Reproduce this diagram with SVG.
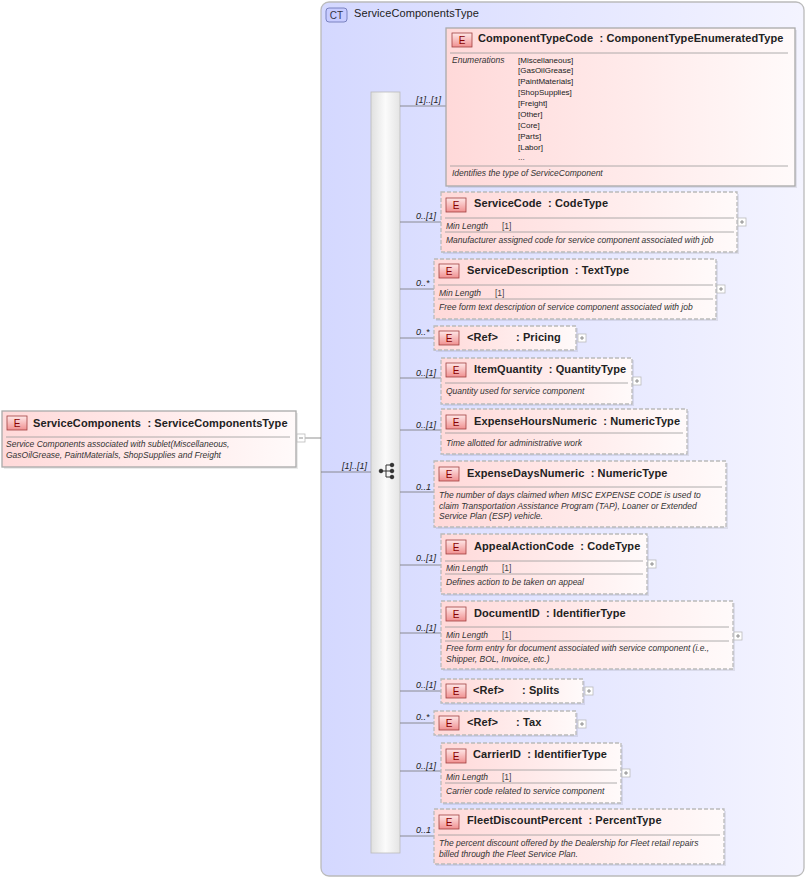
<svg xmlns="http://www.w3.org/2000/svg" width="808" height="880" viewBox="0 0 808 880">
<defs>
<linearGradient id="ct" x1="0" y1="0" x2="1" y2="0"><stop offset="0" stop-color="#d4d8ff"/><stop offset="1" stop-color="#f4f4ff"/></linearGradient>
<linearGradient id="el" x1="0" y1="0" x2="1" y2="0"><stop offset="0" stop-color="#ffd9d9"/><stop offset="1" stop-color="#fffafa"/></linearGradient>
<linearGradient id="bd" x1="0" y1="0" x2="0" y2="1"><stop offset="0" stop-color="#ffe8e8"/><stop offset="1" stop-color="#f09090"/></linearGradient>
<linearGradient id="sq" x1="0" y1="0" x2="1" y2="0"><stop offset="0" stop-color="#e0e0e0"/><stop offset="0.5" stop-color="#fbfbfb"/><stop offset="1" stop-color="#e4e4e4"/></linearGradient>
</defs>
<style>
text{font-family:"Liberation Sans",Arial,sans-serif;fill:#222}
.h{font-size:11px;font-weight:bold;letter-spacing:0.1px}
.d{font-size:8.5px;font-style:italic;fill:#333}
.m{font-size:8.5px;fill:#444}
.en{font-size:8px;fill:#999}
.lbl{font-size:9px;font-style:italic;fill:#333}
.box{fill:url(#el);stroke:#bbb;stroke-width:1.3;stroke-dasharray:4,2}
.sol{fill:url(#el);stroke:#aaa;stroke-width:1.3}
.sh{fill:#000;opacity:0.08}
.b{fill:url(#bd);stroke:#a04040;stroke-width:0.8}
.bt{font-size:10px;fill:#800;text-anchor:middle}
.sep{stroke:#999;stroke-width:0.8}
.pl{fill:#fff;stroke:#bbb;stroke-width:0.8}
.ln{stroke:#777;stroke-width:0.8;fill:none}
</style>
<g id="ct-ServiceComponentsType">
<rect x="321" y="2" width="483" height="874" rx="8" fill="url(#ct)" stroke="#bbb" stroke-width="1.3"/>
<rect x="326" y="8" width="21" height="14" rx="3" fill="#c8ccff" stroke="#6670b0" stroke-width="0.8"/>
<text x="336.5" y="19" style="font-size:10px;fill:#334;text-anchor:middle">CT</text>
<text x="354" y="17" class="h" style="font-weight:normal;font-size:11px">ServiceComponentsType</text>
</g>
<g id="sequence">
<rect x="371" y="92" width="29" height="761" fill="url(#sq)" stroke="#bbb" stroke-width="0.8"/>
<g fill="#333" stroke="#333" stroke-width="1">
<circle cx="381" cy="471" r="1.8"/><circle cx="392" cy="465" r="1.8"/><circle cx="392" cy="471" r="1.8"/><circle cx="392" cy="477" r="1.8"/>
<path d="M381 471H386M386 465V477M386 465H392M386 477H392M386 471H392" fill="none"/>
</g>
</g>
<g id="connectors">
<path class="ln" d="M305 438H321M321 472H371"/>
<path class="ln" d="M400 106H446M400 222H441M400 289H434M400 338H434M400 378H441M400 430H441M400 492H434M400 565H441M400 633H441M400 691H441M400 723H434M400 771H441M400 836H434"/>
<g class="lbl">
<text x="342" y="469">[1]..[1]</text>
<text x="416" y="103">[1]..[1]</text>
<text x="416" y="219">0..[1]</text>
<text x="416" y="286">0..*</text>
<text x="416" y="335">0..*</text>
<text x="416" y="376">0..[1]</text>
<text x="416" y="428">0..[1]</text>
<text x="416" y="490">0..1</text>
<text x="416" y="561">0..[1]</text>
<text x="416" y="631">0..[1]</text>
<text x="416" y="688">0..[1]</text>
<text x="416" y="720">0..*</text>
<text x="416" y="769">0..[1]</text>
<text x="416" y="833">0..1</text>
</g>
</g>
<g id="ServiceComponents">
<rect x="4" y="413" width="294" height="56" class="sh"/>
<rect x="2" y="411" width="294" height="56" fill="url(#el)" stroke="#aaa" stroke-width="1.3"/>
<rect x="7" y="416" width="20" height="14" class="b"/><text x="17" y="427" class="bt">E</text>
<text x="33" y="427" class="h">ServiceComponents&#160; : ServiceComponentsType</text>
<line x1="6" y1="437" x2="290" y2="437" class="sep"/>
<text x="6" y="447" class="d">Service Components associated with sublet(Miscellaneous,</text>
<text x="6" y="458" class="d">GasOilGrease, PaintMaterials, ShopSupplies and Freight</text>
<rect x="297" y="434" width="8" height="8" class="pl"/><line x1="299" y1="438" x2="303" y2="438" class="ln"/>
</g>
<g id="ComponentTypeCode">
<rect x="448" y="30" width="349" height="158" class="sh"/>
<rect x="446" y="28" width="349" height="158" class="sol"/>
<rect x="452" y="33" width="20" height="14" class="b"/><text x="462" y="44" class="bt">E</text>
<text x="478" y="42" class="h">ComponentTypeCode&#160; : ComponentTypeEnumeratedType</text>
<line x1="450" y1="53" x2="788" y2="53" class="sep"/>
<text x="452" y="63" class="d">Enumerations</text>
<g class="en"><text x="518" y="63">[Miscellaneous]</text><text x="518" y="73">[GasOilGrease]</text><text x="518" y="84">[PaintMaterials]</text><text x="518" y="95">[ShopSupplies]</text><text x="518" y="106">[Freight]</text><text x="518" y="117">[Other]</text><text x="518" y="128">[Core]</text><text x="518" y="139">[Parts]</text><text x="518" y="150">[Labor]</text><text x="518" y="160">...</text></g>
<line x1="450" y1="166" x2="788" y2="166" class="sep"/>
<text x="452" y="176" class="d">Identifies the type of ServiceComponent</text>
</g>
<g id="ServiceCode">
<rect x="443" y="194" width="296" height="60" class="sh"/>
<rect x="441" y="192" width="296" height="60" class="box"/>
<rect x="446" y="198" width="20" height="14" class="b"/><text x="456" y="209" class="bt">E</text>
<text x="474" y="207" class="h">ServiceCode&#160; : CodeType</text>
<line x1="445" y1="218" x2="734" y2="218" class="sep"/>
<text x="446" y="229" class="d">Min Length</text><text x="502" y="229" class="m">[1]</text>
<line x1="445" y1="232" x2="734" y2="232" class="sep"/>
<text x="446" y="243" class="d">Manufacturer assigned code for service component associated with job</text>
<rect x="738" y="218" width="8" height="8" class="pl"/><path d="M740 222H744M742 220V224" class="ln"/>
</g>
<g id="ServiceDescription">
<rect x="436" y="261" width="282" height="60" class="sh"/>
<rect x="434" y="259" width="282" height="60" class="box"/>
<rect x="439" y="264" width="20" height="14" class="b"/><text x="449" y="275" class="bt">E</text>
<text x="467" y="274" class="h">ServiceDescription&#160; : TextType</text>
<line x1="438" y1="285" x2="713" y2="285" class="sep"/>
<text x="439" y="296" class="d">Min Length</text><text x="495" y="296" class="m">[1]</text>
<line x1="438" y1="299" x2="713" y2="299" class="sep"/>
<text x="439" y="310" class="d">Free form text description of service component associated with job</text>
<rect x="717" y="285" width="8" height="8" class="pl"/><path d="M719 289H723M721 287V291" class="ln"/>
</g>
<g id="Pricing">
<rect x="436" y="328" width="142" height="24" class="sh"/>
<rect x="434" y="326" width="142" height="24" class="box"/>
<rect x="439" y="331" width="20" height="14" class="b"/><text x="449" y="342" class="bt">E</text>
<text x="467" y="341" class="h">&lt;Ref&gt;</text><text x="516" y="341" class="h">: Pricing</text>
<rect x="578" y="334" width="8" height="8" class="pl"/><path d="M580 338H584M582 336V340" class="ln"/>
</g>
<g id="ItemQuantity">
<rect x="443" y="360" width="191" height="46" class="sh"/>
<rect x="441" y="358" width="191" height="46" class="box"/>
<rect x="446" y="363" width="20" height="14" class="b"/><text x="456" y="374" class="bt">E</text>
<text x="474" y="373" class="h">ItemQuantity&#160; : QuantityType</text>
<line x1="445" y1="383" x2="628" y2="383" class="sep"/>
<text x="446" y="394" class="d">Quantity used for service component</text>
<rect x="633" y="377" width="8" height="8" class="pl"/><path d="M635 381H639M637 379V383" class="ln"/>
</g>
<g id="ExpenseHoursNumeric">
<rect x="443" y="411" width="246" height="45" class="sh"/>
<rect x="441" y="409" width="246" height="45" class="box"/>
<rect x="446" y="415" width="20" height="14" class="b"/><text x="456" y="426" class="bt">E</text>
<text x="474" y="425" class="h">ExpenseHoursNumeric&#160; : NumericType</text>
<line x1="445" y1="433" x2="683" y2="433" class="sep"/>
<text x="446" y="446" class="d">Time allotted for administrative work</text>
</g>
<g id="ExpenseDaysNumeric">
<rect x="436" y="463" width="292" height="66" class="sh"/>
<rect x="434" y="461" width="292" height="66" class="box"/>
<rect x="439" y="467" width="20" height="14" class="b"/><text x="449" y="478" class="bt">E</text>
<text x="467" y="477" class="h">ExpenseDaysNumeric&#160; : NumericType</text>
<line x1="438" y1="487" x2="722" y2="487" class="sep"/>
<text x="439" y="498" class="d">The number of days claimed when MISC EXPENSE CODE is used to</text>
<text x="439" y="509" class="d">claim Transportation Assistance Program (TAP), Loaner or Extended</text>
<text x="439" y="519" class="d">Service Plan (ESP) vehicle.</text>
</g>
<g id="AppealActionCode">
<rect x="443" y="536" width="206" height="60" class="sh"/>
<rect x="441" y="534" width="206" height="60" class="box"/>
<rect x="446" y="540" width="20" height="14" class="b"/><text x="456" y="551" class="bt">E</text>
<text x="474" y="550" class="h">AppealActionCode&#160; : CodeType</text>
<line x1="445" y1="561" x2="643" y2="561" class="sep"/>
<text x="446" y="571" class="d">Min Length</text><text x="502" y="571" class="m">[1]</text>
<line x1="445" y1="574" x2="643" y2="574" class="sep"/>
<text x="446" y="585" class="d">Defines action to be taken on appeal</text>
<rect x="648" y="560" width="8" height="8" class="pl"/><path d="M650 564H654M652 562V566" class="ln"/>
</g>
<g id="DocumentID">
<rect x="443" y="603" width="292" height="68" class="sh"/>
<rect x="441" y="601" width="292" height="68" class="box"/>
<rect x="446" y="607" width="20" height="14" class="b"/><text x="456" y="618" class="bt">E</text>
<text x="474" y="617" class="h">DocumentID&#160; : IdentifierType</text>
<line x1="445" y1="627" x2="729" y2="627" class="sep"/>
<text x="446" y="638" class="d">Min Length</text><text x="502" y="638" class="m">[1]</text>
<line x1="445" y1="641" x2="729" y2="641" class="sep"/>
<text x="446" y="651" class="d">Free form entry for document associated with service component (i.e.,</text>
<text x="446" y="662" class="d">Shipper, BOL, Invoice, etc.)</text>
<rect x="734" y="632" width="8" height="8" class="pl"/><path d="M736 636H740M738 634V638" class="ln"/>
</g>
<g id="Splits">
<rect x="443" y="681" width="142" height="24" class="sh"/>
<rect x="441" y="679" width="142" height="24" class="box"/>
<rect x="446" y="684" width="20" height="14" class="b"/><text x="456" y="695" class="bt">E</text>
<text x="473" y="694" class="h">&lt;Ref&gt;</text><text x="522" y="694" class="h">: Splits</text>
<rect x="585" y="687" width="8" height="8" class="pl"/><path d="M587 691H591M589 689V693" class="ln"/>
</g>
<g id="Tax">
<rect x="436" y="713" width="142" height="24" class="sh"/>
<rect x="434" y="711" width="142" height="24" class="box"/>
<rect x="439" y="716" width="20" height="14" class="b"/><text x="449" y="727" class="bt">E</text>
<text x="467" y="726" class="h">&lt;Ref&gt;</text><text x="516" y="726" class="h">: Tax</text>
<rect x="578" y="720" width="8" height="8" class="pl"/><path d="M580 724H584M582 722V726" class="ln"/>
</g>
<g id="CarrierID">
<rect x="443" y="745" width="180" height="60" class="sh"/>
<rect x="441" y="743" width="180" height="60" class="box"/>
<rect x="446" y="749" width="20" height="14" class="b"/><text x="456" y="760" class="bt">E</text>
<text x="473" y="758" class="h">CarrierID&#160; : IdentifierType</text>
<line x1="445" y1="770" x2="617" y2="770" class="sep"/>
<text x="446" y="780" class="d">Min Length</text><text x="502" y="780" class="m">[1]</text>
<line x1="445" y1="783" x2="617" y2="783" class="sep"/>
<text x="446" y="794" class="d">Carrier code related to service component</text>
<rect x="622" y="769" width="8" height="8" class="pl"/><path d="M624 773H628M626 771V775" class="ln"/>
</g>
<g id="FleetDiscountPercent">
<rect x="436" y="811" width="290" height="55" class="sh"/>
<rect x="434" y="809" width="290" height="55" class="box"/>
<rect x="439" y="815" width="20" height="14" class="b"/><text x="449" y="826" class="bt">E</text>
<text x="467" y="824" class="h">FleetDiscountPercent&#160; : PercentType</text>
<line x1="438" y1="835" x2="720" y2="835" class="sep"/>
<text x="439" y="846" class="d">The percent discount offered by the Dealership for Fleet retail repairs</text>
<text x="439" y="857" class="d">billed through the Fleet Service Plan.</text>
</g>
</svg>
